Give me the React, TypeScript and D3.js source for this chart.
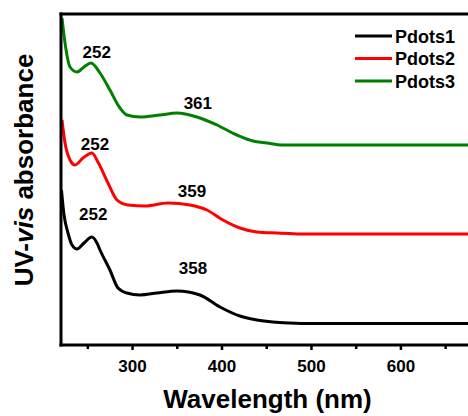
import React from "react";
import * as d3 from "d3";

const seriesNames = ["Pdots1", "Pdots2", "Pdots3"];
const seriesColors = ["#000000", "#ff0000", "#008000"];

const pdots1Wl = [220.5, 223.4, 227.8, 232.3, 237.9, 245.7, 254.6, 260.2, 263.6, 274.7, 283.7, 293.7, 308.3, 327.3, 349.6, 375.3, 397.7, 420, 439, 456.9, 475.9, 499.3, 675];
const pdots1Abs = [1.55, 1.3, 1.12, 1.0, 0.96, 1.02, 1.08, 1.02, 0.95, 0.75, 0.57, 0.52, 0.5, 0.52, 0.54, 0.5, 0.38, 0.29, 0.25, 0.23, 0.22, 0.215, 0.215];

const pdots2Wl = [221.1, 224.5, 230.1, 235.6, 244.6, 254.6, 261.3, 272.5, 282.6, 294.9, 313.9, 339.6, 364.1, 383.1, 401, 420, 439, 461.3, 498.2, 675];
const pdots2Abs = [2.25, 2.02, 1.85, 1.8, 1.87, 1.92, 1.83, 1.62, 1.45, 1.4, 1.39, 1.42, 1.4, 1.35, 1.25, 1.17, 1.13, 1.12, 1.11, 1.11];

const pdots3Wl = [221.1, 224.5, 230.1, 237.9, 245.7, 253.5, 263.6, 274.7, 285.9, 293.7, 308.3, 330.6, 349.6, 372, 394.3, 416.6, 434.5, 450.2, 467, 498, 675];
const pdots3Abs = [3.27, 3.02, 2.78, 2.73, 2.78, 2.82, 2.72, 2.55, 2.37, 2.3, 2.28, 2.3, 2.32, 2.28, 2.2, 2.1, 2.04, 2.02, 2.0, 2.0, 2.0];

const peakLabels = ["252", "252", "252", "358", "359", "361"];
const peakLabelWl = [256, 258, 260, 367.6, 366.5, 373];
const peakLabelAbs = [1.25, 1.95, 2.87, 0.71, 1.48, 2.36];

const xTicksMajor = [300, 400, 500, 600];
const xTicksMinor = [250, 350, 450, 550, 650];

const W = 468;
const H = 416;
const left = 61;
const right = 468;
const top = 14;
const bottom = 345;

export default function App() {
  const x = d3.scaleLinear().domain([220, 675]).range([left, right]);
  const y = d3.scaleLinear().domain([0, 3.31]).range([bottom, top]);
  const line = d3
    .line<[number, number]>()
    .x((d) => x(d[0]))
    .y((d) => y(d[1]))
    .curve(d3.curveMonotoneX);

  const series = [
    pdots1Wl.map((w, i) => [w, pdots1Abs[i]] as [number, number]),
    pdots2Wl.map((w, i) => [w, pdots2Abs[i]] as [number, number]),
    pdots3Wl.map((w, i) => [w, pdots3Abs[i]] as [number, number]),
  ];

  const font = "'Liberation Sans', Arial, sans-serif";

  return (
    <svg
      width={W}
      height={H}
      style={{ position: "absolute", left: 0, top: 0, background: "#fff" }}
      fontFamily={font}
    >
      <defs>
        <clipPath id="plot">
          <rect x={left} y={top} width={right - left} height={bottom - top} />
        </clipPath>
      </defs>
      <g clipPath="url(#plot)">
        {series.map((s, i) => (
          <path key={i} d={line(s) || ""} fill="none" stroke={seriesColors[i]} strokeWidth={3} strokeLinejoin="round" />
        ))}
      </g>
      {peakLabels.map((t, i) => (
        <text
          key={i}
          x={x(peakLabelWl[i])}
          y={y(peakLabelAbs[i])}
          textAnchor="middle"
          fontSize={17}
          fontWeight="bold"
          fill="#000"
        >
          {t}
        </text>
      ))}
      {/* axes */}
      <line x1={left} x2={left} y1={top - 1.5} y2={bottom + 1.5} stroke="#000" strokeWidth={3} />
      <line x1={left - 1.5} x2={right} y1={bottom} y2={bottom} stroke="#000" strokeWidth={3} />
      <line x1={left - 1.5} x2={right} y1={top} y2={top} stroke="#000" strokeWidth={3} />
      {xTicksMajor.map((t) => (
        <g key={t}>
          <line x1={x(t)} x2={x(t)} y1={bottom} y2={bottom + 5} stroke="#000" strokeWidth={2.5} />
          <text x={x(t)} y={372} textAnchor="middle" fontSize={17} fontWeight="bold" fill="#000">
            {t}
          </text>
        </g>
      ))}
      {xTicksMinor.map((t) => (
        <line key={t} x1={x(t)} x2={x(t)} y1={bottom} y2={bottom + 4} stroke="#000" strokeWidth={2.5} />
      ))}
      <text x={267.5} y={408} textAnchor="middle" fontSize={26} fontWeight="bold" fill="#000">
        Wavelength (nm)
      </text>
      <text
        transform={`translate(33, 170) rotate(-90)`}
        textAnchor="middle"
        fontSize={26}
        fontWeight="bold"
        fill="#000"
      >
        UV-<tspan fontStyle="italic">vis</tspan> absorbance
      </text>
      {/* legend */}
      {seriesNames.map((n, i) => (
        <g key={n} transform={`translate(355, ${36 + i * 22.5})`}>
          <line x1={0} x2={37} y1={0} y2={0} stroke={seriesColors[i]} strokeWidth={3} />
          <text x={40} y={6.5} fontSize={18} fontWeight="bold" fill="#000">
            {n}
          </text>
        </g>
      ))}
    </svg>
  );
}
